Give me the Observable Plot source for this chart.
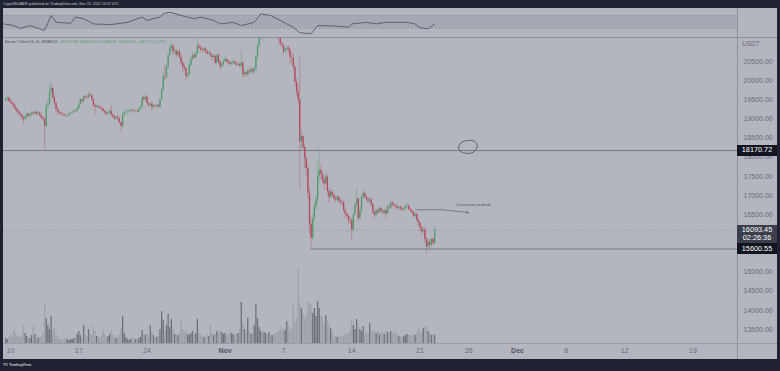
<!DOCTYPE html>
<html><head><meta charset="utf-8">
<script src="https://cdn.jsdelivr.net/npm/d3@7"></script>
<script src="https://cdn.jsdelivr.net/npm/@observablehq/plot@0.6"></script>
<style>
html,body{margin:0;padding:0;background:#1d2130;}
#wrap{position:relative;width:780px;height:371px;background:#1d2130;overflow:hidden;font-family:"Liberation Sans",Arial,sans-serif;}
#wrap > *{position:absolute;}
.lbl{color:#fff;font-size:7.3px;text-align:center;line-height:8px;}
</style></head><body><div id="wrap"></div>
<script>
// ---------- DATA ----------
const firstBar = "2022-10-09T12:00:00Z"; // 4h bars
const barHours = 4;
const open0 = 19470;
const close = [
19500,19540,19450,
19420,19380,19300,19250,19180,19140,
19100,19020,18980,19050,19120,19060,
19100,19150,19130,19170,19120,19150,
19080,19020,18980,18800,19350,19380,
19700,19800,19550,19400,19250,19180,
19150,19120,19100,19080,19070,19070,
19120,19140,19180,19200,19190,19260,
19380,19500,19450,19580,19560,19550,
19620,19600,19500,19350,19300,19330,
19300,19270,19250,19200,19150,19120,
19150,19200,19100,19050,19000,19040,
19000,18900,18800,19100,19150,19160,
19180,19200,19220,19210,19200,19200,
19180,19250,19300,19550,19500,19560,
19400,19350,19380,19300,19330,19320,
19350,19300,19500,19750,20100,20080,
20350,20650,20850,20900,20750,20770,
20650,20750,20600,20450,20350,20300,
20100,20150,20400,20550,20650,20600,
20700,20900,20850,20800,20780,20820,
20750,20700,20720,20650,20600,20630,
20450,20650,20480,20350,20400,20490,
20550,20500,20450,20420,20440,20480,
20450,20400,20420,20380,20450,20150,
20200,20150,20250,20220,20280,20220,
20300,20600,20900,21150,21250,21150,
21300,21350,21280,21320,21300,21300,
21250,21200,21150,21100,20950,20900,
20750,20800,20850,20800,20600,20590,
20350,19950,19700,19500,18400,18540,
18250,17950,17700,17050,16250,15880,
16400,16700,16900,17500,17650,17550,
17400,17300,17480,17100,16950,17080,
17000,16920,16880,16950,16850,16820,
16800,16600,16500,16450,16350,16330,
16100,16500,16750,16900,16400,16600,
16950,17050,16950,16900,16850,16880,
16750,16550,16480,16600,16550,16660,
16580,16540,16600,16520,16700,16680,
16800,16750,16720,16700,16650,16690,
16640,16620,16650,16700,16720,16630,
16600,16550,16450,16500,16350,16280,
16150,16050,16100,15850,15650,15780,
15700,15850,15747.88,16093.45
];
const high = [
19540,19580,19560,
19525,19460,19420,19350,19290,19220,
19180,19130,19060,19090,19160,19150,
19140,19200,19180,19220,19200,19190,
19180,19110,19060,19050,19400,19513,
19900,19951,19840,19600,19450,19300,
19220,19180,19160,19130,19110,19100,
19150,19170,19210,19240,19230,19300,
19420,19540,19520,19620,19610,19600,
19700,19680,19630,19520,19400,19380,
19360,19330,19300,19290,19230,19190,
19190,19250,19340,19140,19090,19080,
19080,19040,18940,19180,19230,19220,
19230,19240,19260,19250,19240,19230,
19230,19290,19340,19600,19580,19690,
19600,19440,19420,19450,19380,19370,
19390,19380,19540,19800,20200,20400,
20400,20700,20950,21020,20930,20850,
20820,20800,20800,20680,20500,20420,
20330,20200,20450,20620,20750,20700,
20750,21085,20950,20900,20850,20870,
20860,20800,20760,20760,20700,20680,
20660,20700,20720,20520,20450,20550,
20620,20590,20540,20500,20510,20530,
20520,20490,20460,20470,20780,20500,
20260,20240,20300,20330,20360,20320,
20350,20650,20950,21250,21300,21280,
21350,21480,21400,21380,21370,21350,
21350,21300,21250,21200,21150,21000,
20950,20850,20900,20900,20850,20700,
20700,20400,20050,19900,20650,18700,
18600,18350,18050,17800,17200,16400,
16500,16800,17000,17900,18200,17800,
17650,17500,17600,17550,17200,17150,
17150,17050,16980,17000,16990,16900,
16880,16850,16650,16560,16500,16420,
16400,16550,16800,17190,16950,16700,
17000,17170,17080,17000,16950,16950,
16920,16800,16600,16650,16640,16700,
16700,16620,16650,16640,16750,16740,
16900,16850,16790,16780,16750,16730,
16720,16690,16690,16740,16800,16760,
16680,16650,16580,16540,16530,16400,
16300,16200,16150,16150,15900,15850,
15850,15900,15900,16194.00
];
const low = [
19440,19480,19420,
19380,19340,19260,19200,19120,19080,
19050,18960,18860,18940,19010,19020,
19030,19070,19090,19100,19080,19090,
19040,18980,18930,18190,18750,19250,
19340,19620,19500,19350,19160,19070,
19100,19080,19060,19040,19030,19040,
19050,19100,19120,19160,19150,19170,
19230,19360,19400,19420,19510,19500,
19520,19560,19460,19300,19100,19260,
19270,19240,19200,19150,19100,19070,
19090,19120,19060,18990,18950,18960,
18950,18860,18650,18760,19050,19100,
19130,19150,19170,19170,19160,19160,
19140,19150,19220,19280,19450,19460,
19360,19300,19310,19200,19250,19270,
19280,19260,19280,19460,19700,19980,
20050,20300,20600,20750,20680,20680,
20600,20600,20560,20400,20200,20250,
20000,20050,20120,20350,20500,20560,
20560,20680,20800,20750,20720,20740,
20700,20660,20660,20610,20500,20560,
20400,20420,20440,20250,20300,20370,
20460,20460,20410,20380,20390,20410,
20400,20370,20360,20330,20300,20050,
20080,20100,20110,20150,20180,20170,
20180,20260,20550,20850,21050,21080,
21100,21250,21230,21240,21250,21250,
21200,21150,21100,21020,20900,20850,
20680,20700,20760,20700,20400,20450,
20250,19850,19600,19350,17170,18200,
18150,17700,17500,16900,16000,15588,
15800,16300,16600,16800,17350,17400,
17300,17150,17250,17000,16800,16900,
16950,16860,16800,16840,16800,16760,
16700,16550,16400,16380,16250,16240,
15815,16050,16450,16700,16300,16350,
16550,16900,16900,16850,16780,16800,
16700,16500,16400,16450,16500,16520,
16540,16480,16500,16400,16480,16620,
16640,16700,16680,16650,16600,16620,
16600,16580,16590,16610,16660,16600,
16560,16500,16400,16420,16300,16200,
16050,15950,16000,15750,15476,15600,
15600,15650,15700,15683.33
];
const volume = [
5,4,6,
8,6,13,10,7,6,
6,8,17,10,7,6,
5,8,17,9,6,5,
6,7,10,39,25,18,
14,27,12,15,9,6,
4,4,3,4,5,4,
3,4,4,5,6,9,
12,8,6,18,9,7,
14,10,8,17,12,7,
6,5,7,13,9,6,
7,9,13,9,8,5,
6,8,15,27,10,6,
4,3,4,5,4,4,
4,5,6,13,9,8,
10,7,18,11,8,7,
6,7,14,32,23,12,
18,29,16,24,13,9,
9,8,10,23,14,10,
13,9,8,10,12,8,
10,24,10,8,7,6,
6,8,7,19,10,8,
9,12,10,13,11,9,
10,8,9,12,10,9,
8,9,10,14,41,20,
14,10,25,12,9,10,
18,39,25,16,12,9,
11,10,9,11,8,8,
9,10,11,12,17,12,
15,13,22,18,12,14,
38,22,25,75,40,35,
30,25,28,42,40,38,
30,35,27,42,35,28,
26,18,28,22,19,15,
10,8,7,6,8,6,
7,8,10,9,10,12,
23,18,14,24,16,14,
12,17,10,11,9,20,
13,12,11,10,12,9,
10,11,9,12,11,10,
12,10,9,11,8,7,
7,6,7,8,9,8,
8,7,9,8,11,16,
12,10,15,17,16,12,
10,8,9,8
];
const rsiTimes = ["2022-10-09T08:00","2022-10-10T08:00","2022-10-11T00:00","2022-10-12T00:00","2022-10-13T12:00","2022-10-14T04:00","2022-10-14T16:00","2022-10-16T04:00","2022-10-16T16:00","2022-10-17T12:00","2022-10-18T12:00","2022-10-20T08:00","2022-10-22T00:00","2022-10-23T12:00","2022-10-24T00:00","2022-10-25T08:00","2022-10-25T16:00","2022-10-26T08:00","2022-10-27T12:00","2022-10-28T20:00","2022-10-29T12:00","2022-10-30T20:00","2022-10-31T12:00","2022-11-01T20:00","2022-11-02T16:00","2022-11-04T00:00","2022-11-04T16:00","2022-11-05T16:00","2022-11-06T16:00","2022-11-07T08:00","2022-11-08T00:00","2022-11-08T16:00","2022-11-09T20:00","2022-11-10T12:00","2022-11-12T00:00","2022-11-13T16:00","2022-11-14T00:00","2022-11-15T12:00","2022-11-16T12:00","2022-11-17T12:00","2022-11-19T16:00","2022-11-20T12:00","2022-11-21T00:00","2022-11-21T20:00","2022-11-22T12:00"];
const rsiValues = [44,39,30,39,24,70,49,46,65,60,44,42,49,65,55,65,75,80,70,60,65,55,44,49,39,49,75,70,55,44,34,17,14,39,38,34,44,49,44,49,49,44,32,29,44];
const rsiBand = [30, 70];
// 16000.00 and 15500.00 sit under the price boxes in the reference, so they are not shown
const yTicks = [13500,14000,14500,15000,16500,17000,17500,18000,18500,19000,19500,20000,20500];
const xTickDates = ["2022-10-10","2022-10-17","2022-10-24","2022-11-01","2022-11-07","2022-11-14","2022-11-21","2022-11-26","2022-12-01","2022-12-06","2022-12-12","2022-12-19"];
const xTickLabels = ["10","17","24","Nov","7","14","21","26","Dec","6","12","19"];
const resistance = 18170.72;
const support = 15600.55;
const supportFrom = "2022-11-09T20:00:00Z";
const lastClose = 16093.45;
const countdown = "02:26:36";
const change = "+345.57 (+2.19%)";
const symbolText = "Bitcoin / TetherUS, 4h, BINANCE";
const headerText = "CryptoWolfAVE published on TradingView.com, Nov 22, 2022 13:22 UTC";
const noteText = "Crucial area to break";
const noteArrow = {x1:"2022-11-20T13:00Z", y1:16625, x2:"2022-11-25T23:20Z", y2:16554};
const noteTextPos = {x:"2022-11-24T15:20Z", y:16755};
const loopTimes = ["2022-11-24T23:30Z","2022-11-25T03:40Z","2022-11-25T16:00Z","2022-11-26T08:30Z","2022-11-26T16:35Z","2022-11-26T20:50Z","2022-11-26T16:35Z","2022-11-26T04:20Z","2022-11-25T11:50Z","2022-11-25T01:10Z"];
const loopValues = [18259,18363,18426,18434,18389,18303,18173,18102,18113,18173];
const xDomain = ["2022-10-09T06:46:00Z","2022-12-23T13:30:00Z"];
const yDomain = [13134.5, 21122.5];

// ---------- COLORS ----------
const BG = "#b3b6bf", UP = "#4f9a68", DOWN = "#b4475a", TXT = "#686b75";

// ---------- BUILD ----------
const t0 = new Date(firstBar).getTime();
const bars = close.map((c, i) => {
  const o = i ? close[i-1] : open0;
  return {t: new Date(t0 + i*barHours*3600e3), o, h: high[i], l: low[i], c, v: volume[i], up: c >= o};
});
const xd = xDomain.map(d => new Date(d));
const rsiPts = rsiTimes.map((t, i) => ({t: new Date(t + "Z"), v: rsiValues[i]}));
const loop = loopTimes.map((t, i) => ({t: new Date(t), v: loopValues[i]}));
const ticks = xTickDates.map((d, i) => ({t: new Date(d + "T00:00:00Z"), label: xTickLabels[i], month: isNaN(+xTickLabels[i])}));
const last = bars[bars.length-1];

const wrap = document.getElementById("wrap");
function div(css, html){ const e = document.createElement("div"); Object.assign(e.style, css); if (html!=null) e.innerHTML = html; wrap.appendChild(e); return e; }

div({left:"3px", top:"8px", width:"774px", height:"351px", background:BG});
div({left:"3px", top:"0px", height:"8px", lineHeight:"9px", fontSize:"3.6px", color:"#c9cbd2", whiteSpace:"nowrap"}, headerText);

const baseStyle = {background:"transparent", fontFamily:"Liberation Sans, Arial, sans-serif", overflow:"visible"};

// RSI pane
const rsi = Plot.plot({
  width: 774, height: 29, marginLeft: 0, marginRight: 40, marginTop: 0, marginBottom: 0,
  style: baseStyle,
  x: {type: "utc", domain: xd, axis: null},
  y: {domain: [2.3, 91.5], axis: null},
  marks: [
    Plot.rect([rsiBand], {y1: d => d[0], y2: d => d[1], fill: "#a6a9b3"}),
    Plot.ruleY(rsiBand, {stroke: "#8f929c", strokeDasharray: "2,2", strokeWidth: 0.8}),
    Plot.line(rsiPts, {x: "t", y: "v", stroke: "#5e616b", strokeWidth: 1})
  ]
});
Object.assign(rsi.style, {position: "absolute", left: "3px", top: "8px"});
wrap.appendChild(rsi);

// Volume pane
const vol = Plot.plot({
  width: 774, height: 100, marginLeft: 0, marginRight: 40, marginTop: 0, marginBottom: 0,
  style: baseStyle,
  x: {type: "utc", domain: xd, axis: null},
  y: {domain: [0, 100], axis: null},
  marks: [
    Plot.ruleX(bars, {x: "t", y1: 0, y2: "v", stroke: d => d.up ? "#6d7079" : "#9da0a9", strokeWidth: 1.3})
  ]
});
Object.assign(vol.style, {position: "absolute", left: "3px", top: "243px"});
wrap.appendChild(vol);

// Main pane
const main = Plot.plot({
  width: 774, height: 322, marginLeft: 0, marginRight: 40, marginTop: 0, marginBottom: 16,
  style: {...baseStyle, fontSize: "7px", color: TXT},
  x: {type: "utc", domain: xd, axis: null},
  y: {domain: yDomain, axis: "right", ticks: yTicks, tickFormat: d => d.toFixed(2), tickSize: 0, tickPadding: 6, label: null},
  marks: [
    Plot.ruleY([lastClose], {stroke: "#9c9fa8", strokeDasharray: "1.5,1.5"}),
    Plot.ruleY([resistance], {stroke: "#787b85", strokeWidth: 1}),
    Plot.ruleY([support], {x1: new Date(supportFrom), x2: xd[1], stroke: "#787b85", strokeWidth: 1}),
    Plot.ruleX(bars, {x: "t", y1: "l", y2: "h", stroke: d => d.up ? UP : DOWN, strokeOpacity: 0.45, strokeWidth: 0.9, clip: true}),
    Plot.ruleX(bars, {x: "t", y1: "o", y2: "c", stroke: d => d.up ? UP : DOWN, strokeWidth: 1.3, clip: true}),
    Plot.arrow([noteArrow], {x1: d => new Date(d.x1), y1: "y1", x2: d => new Date(d.x2), y2: "y2", bend: 6, stroke: "#5d6069", strokeWidth: 0.7, headLength: 4}),
    Plot.text([noteTextPos], {x: d => new Date(d.x), y: "y", text: () => noteText, textAnchor: "start", fontSize: 3.8, fill: "#4d5059"}),
    Plot.line(loop, {x: "t", y: "v", curve: "catmull-rom-closed", stroke: "#4a4d56", strokeWidth: 0.8}),
    Plot.text(ticks.filter(d => !d.month), {x: "t", text: "label", frameAnchor: "bottom", dy: 9, fontSize: 7, fill: TXT}),
    Plot.text(ticks.filter(d => d.month), {x: "t", text: "label", frameAnchor: "bottom", dy: 9, fontSize: 7, fill: "#50535c", fontWeight: 600})
  ]
});
Object.assign(main.style, {position: "absolute", left: "3px", top: "37px"});
wrap.appendChild(main);

// separators
div({left:"3px", top:"37px", width:"774px", height:"1px", background:"#8e919a"});
div({left:"3px", top:"343px", width:"774px", height:"1px", background:"#9a9da6"});
div({left:"737px", top:"8px", width:"1px", height:"351px", background:"#8e919a"});
div({left:"3px", top:"359px", width:"777px", height:"12px", background:"#1d2130"});
div({left:"3px", top:"361px", fontSize:"3.8px", color:"#c9cbd2", fontWeight:"700", whiteSpace:"nowrap", lineHeight:"8px"}, "TV TradingView");

// legend
const fmt = v => v.toFixed(2);
div({left:"5px", top:"40px", fontSize:"3.6px", whiteSpace:"nowrap", lineHeight:"5px", color:"#4e5159"},
  symbolText + ` &nbsp;<span style="color:${UP}">O${fmt(last.o)} &nbsp;H${fmt(last.h)} &nbsp;L${fmt(last.l)} &nbsp;C${fmt(last.c)} &nbsp;${change}</span>`);
div({left:"742px", top:"40px", fontSize:"6.5px", color:TXT, lineHeight:"8px"}, "USDT");

// price labels through the y scale
const ys = main.scale("y");
const Y = v => 37 + ys.apply(v);
const res = div({left:"737px", top:(Y(resistance)-5.5)+"px", width:"40px", height:"11px", background:"#121520"});
res.className = "lbl";
res.innerHTML = `<div style="padding-top:1.5px">${fmt(resistance)}</div>`;
const cur = div({left:"737px", top:(Y(lastClose)-5)+"px", width:"40px", height:"18px", background:"#3b3f4c"});
cur.className = "lbl";
cur.innerHTML = `<div style="padding-top:1px">${fmt(lastClose)}</div><div>${countdown}</div>`;
const sup = div({left:"737px", top:(Y(support)-5.5)+"px", width:"40px", height:"11px", background:"#121520"});
sup.className = "lbl";
sup.innerHTML = `<div style="padding-top:1.5px">${fmt(support)}</div>`;
</script></body></html>
